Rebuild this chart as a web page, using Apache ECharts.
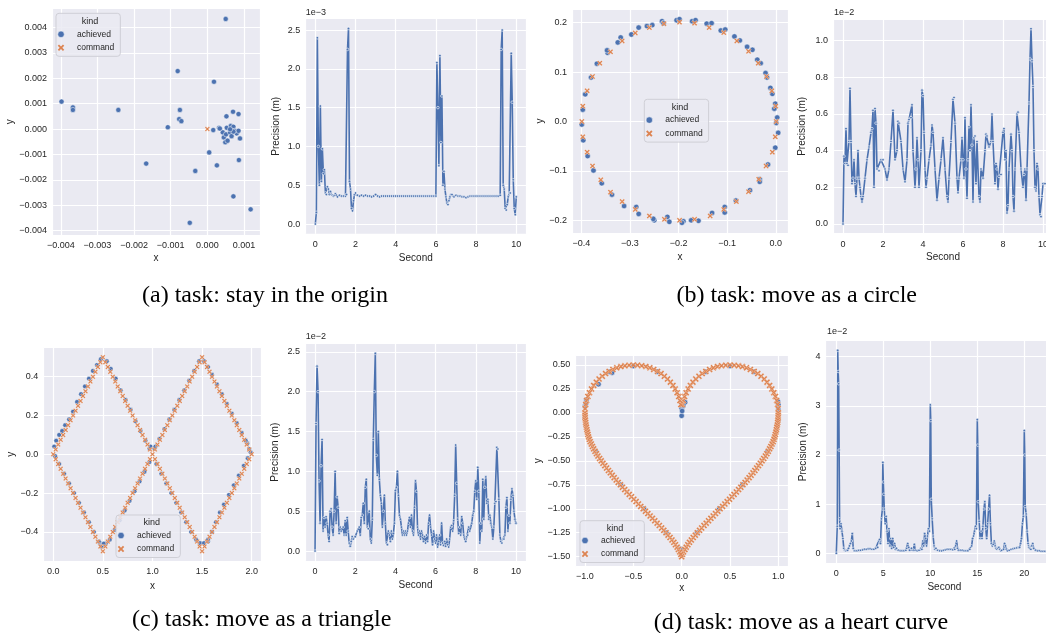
<!DOCTYPE html>
<html><head><meta charset="utf-8">
<script src="https://cdn.jsdelivr.net/npm/echarts@6/dist/echarts.min.js"></script>
<style>html,body{margin:0;padding:0;background:#fff}#c{width:1046px;height:633px}</style>
</head><body><div id="c"></div>
<script>
// ---------- DATA ----------
const kinds = ['achieved', 'command'];
const captions = ['(a) task: stay in the origin', '(b) task: move as a circle', '(c) task: move as a triangle', '(d) task: move as a heart curve'];
const offsetTexts = ['1e\u22123', '1e\u22122', '1e\u22122', '1e\u22122'];

// (a) stay in the origin
const stayAchieved = [[0.00050,0.00433],[-0.00398,0.00108],[-0.00367,0.00085],[-0.00367,0.00075],[-0.00243,0.00075],[-0.00081,0.00228],[0.00018,0.00186],[-0.00075,0.00075],[-0.00077,0.00039],[-0.00071,0.00031],[-0.00108,0.00007],[-0.00167,-0.00136],[-0.00033,-0.00165],[0.00005,-0.00092],[0.00026,-0.00143],[0.00086,-0.00122],[0.00071,-0.00265],[0.00118,-0.00316],[-0.00048,-0.00369],[0.00070,0.00068],[0.00052,0.00050],[0.00085,0.00059],[0.00016,-0.00004],[0.00032,0.00005],[0.00042,-0.00013],[0.00045,-0.00033],[0.00049,-0.00052],[0.00055,-0.00046],[0.00053,0.00005],[0.00051,-0.00021],[0.00062,-0.00014],[0.00064,0.00012],[0.00071,0.00009],[0.00075,-0.00007],[0.00080,-0.00017],[0.00085,-0.00007],[0.00089,-0.00037],[0.00066,-0.00028],[0.00071,-0.00010],[0.00062,-0.00001],[0.00034,0.00002]];
const stayCommand = [[0,0]];
const stayPrecision = [[0,0],[0.05,0.15],[0.1,2.4],[0.15,1.0],[0.2,0.5],[0.25,1.52],[0.3,0.55],[0.35,0.97],[0.4,0.65],[0.45,0.7],[0.5,0.4],[0.55,0.38],[0.6,0.48],[0.65,0.45],[0.7,0.38],[0.75,0.42],[0.8,0.38],[0.85,0.37],[0.9,0.36],[0.95,0.37],[1.0,0.39],[1.05,0.37],[1.1,0.35],[1.2,0.37],[1.3,0.36],[1.4,0.36],[1.5,0.36],[1.55,0.38],[1.6,2.25],[1.65,2.52],[1.7,0.55],[1.75,0.45],[1.8,0.2],[1.85,0.17],[1.9,0.3],[1.95,0.38],[2.0,0.4],[2.1,0.37],[2.2,0.36],[2.3,0.37],[2.4,0.36],[2.5,0.37],[2.6,0.36],[2.7,0.36],[2.8,0.35],[2.9,0.36],[3.0,0.38],[3.1,0.36],[3.2,0.35],[3.3,0.36],[3.4,0.36],[3.5,0.36],[3.6,0.36],[3.7,0.36],[3.8,0.36],[3.9,0.36],[4.0,0.36],[4.1,0.36],[4.2,0.36],[4.3,0.36],[4.4,0.36],[4.5,0.36],[4.6,0.36],[4.7,0.36],[4.8,0.36],[4.9,0.36],[5.0,0.36],[5.1,0.36],[5.2,0.36],[5.3,0.36],[5.4,0.36],[5.5,0.36],[5.6,0.36],[5.7,0.36],[5.8,0.36],[5.9,0.36],[6.0,0.36],[6.05,2.08],[6.1,1.5],[6.15,0.75],[6.2,2.17],[6.25,1.05],[6.3,1.65],[6.35,0.5],[6.4,0.68],[6.45,0.45],[6.5,0.35],[6.55,0.27],[6.6,0.25],[6.65,0.3],[6.7,0.35],[6.75,0.38],[6.8,0.38],[6.9,0.35],[7.0,0.37],[7.1,0.36],[7.2,0.36],[7.3,0.35],[7.4,0.35],[7.5,0.34],[7.6,0.35],[7.7,0.36],[7.8,0.36],[7.9,0.36],[8.0,0.36],[8.1,0.36],[8.2,0.36],[8.3,0.36],[8.4,0.36],[8.5,0.36],[8.6,0.36],[8.7,0.36],[8.8,0.36],[8.9,0.36],[9.0,0.36],[9.1,0.36],[9.2,0.37],[9.25,2.25],[9.3,2.5],[9.35,0.5],[9.4,0.45],[9.45,0.2],[9.5,0.18],[9.55,0.25],[9.6,0.35],[9.65,0.4],[9.7,0.4],[9.75,2.2],[9.8,1.57],[9.85,0.57],[9.9,0.2],[9.95,0.12],[10.0,0.35]];

// (b) circle
const circleAchieved = [[-0.204,0.205],[-0.198,0.207],[-0.172,0.203],[-0.165,0.205],[-0.142,0.198],[-0.132,0.199],[-0.113,0.184],[-0.104,0.186],[-0.085,0.172],[-0.074,0.164],[-0.059,0.151],[-0.048,0.145],[-0.038,0.125],[-0.031,0.118],[-0.021,0.098],[-0.018,0.089],[-0.011,0.068],[-0.007,0.056],[-0.001,0.036],[-0.003,0.026],[0.003,0.008],[0.001,-0.003],[0.005,-0.023],[-0.001,-0.053],[-0.016,-0.087],[-0.033,-0.117],[-0.033,-0.122],[-0.053,-0.139],[-0.082,-0.160],[-0.105,-0.173],[-0.105,-0.184],[-0.131,-0.185],[-0.159,-0.201],[-0.174,-0.200],[-0.190,-0.202],[-0.193,-0.205],[-0.223,-0.193],[-0.219,-0.203],[-0.250,-0.200],[-0.252,-0.197],[-0.282,-0.187],[-0.287,-0.173],[-0.312,-0.171],[-0.337,-0.148],[-0.358,-0.125],[-0.375,-0.099],[-0.387,-0.070],[-0.396,-0.038],[-0.399,-0.006],[-0.397,0.024],[-0.392,0.055],[-0.380,0.089],[-0.368,0.117],[-0.346,0.139],[-0.347,0.144],[-0.325,0.160],[-0.319,0.170],[-0.297,0.176],[-0.282,0.190],[-0.265,0.193],[-0.254,0.195],[-0.234,0.203],[-0.231,0.199]];
const circleCommand = [[-0.198,0.201],[-0.167,0.199],[-0.137,0.190],[-0.107,0.180],[-0.080,0.163],[-0.056,0.142],[-0.036,0.118],[-0.019,0.091],[-0.008,0.062],[0.000,0.031],[0.001,0.000],[-0.001,-0.031],[-0.007,-0.062],[-0.020,-0.090],[-0.035,-0.117],[-0.056,-0.142],[-0.081,-0.162],[-0.107,-0.178],[-0.135,-0.191],[-0.167,-0.198],[-0.198,-0.200],[-0.229,-0.198],[-0.260,-0.191],[-0.289,-0.178],[-0.316,-0.162],[-0.340,-0.143],[-0.360,-0.118],[-0.377,-0.090],[-0.388,-0.062],[-0.397,-0.031],[-0.399,0.000],[-0.397,0.031],[-0.388,0.062],[-0.377,0.091],[-0.362,0.118],[-0.340,0.141],[-0.316,0.163],[-0.289,0.179],[-0.260,0.190],[-0.230,0.198]];
const circlePrecision = [[0,0],[0.05,0.37],[0.1,0.33],[0.15,0.52],[0.2,0.33],[0.25,0.32],[0.3,0.45],[0.35,0.74],[0.4,0.45],[0.45,0.22],[0.5,0.25],[0.55,0.35],[0.6,0.22],[0.65,0.15],[0.7,0.25],[0.75,0.4],[0.8,0.25],[0.85,0.2],[0.9,0.15],[0.95,0.12],[1.0,0.15],[1.1,0.25],[1.2,0.35],[1.3,0.42],[1.4,0.5],[1.45,0.52],[1.5,0.62],[1.55,0.2],[1.6,0.63],[1.65,0.55],[1.7,0.3],[1.8,0.29],[1.9,0.35],[2.0,0.35],[2.1,0.3],[2.2,0.24],[2.3,0.3],[2.4,0.45],[2.5,0.62],[2.6,0.35],[2.7,0.4],[2.75,0.56],[2.8,0.55],[2.9,0.45],[3.0,0.3],[3.1,0.23],[3.2,0.35],[3.25,0.55],[3.3,0.57],[3.4,0.58],[3.45,0.65],[3.5,0.4],[3.6,0.2],[3.65,0.3],[3.7,0.47],[3.75,0.35],[3.8,0.2],[3.9,0.4],[3.95,0.73],[4.0,0.7],[4.05,0.5],[4.1,0.3],[4.15,0.2],[4.2,0.25],[4.3,0.35],[4.4,0.43],[4.45,0.54],[4.5,0.5],[4.6,0.3],[4.7,0.13],[4.8,0.25],[4.9,0.35],[5.0,0.47],[5.1,0.3],[5.2,0.15],[5.25,0.12],[5.3,0.25],[5.4,0.45],[5.5,0.68],[5.55,0.69],[5.6,0.55],[5.7,0.25],[5.75,0.17],[5.8,0.25],[5.9,0.35],[5.95,0.47],[6.0,0.35],[6.05,0.25],[6.1,0.58],[6.15,0.3],[6.2,0.14],[6.25,0.35],[6.3,0.53],[6.35,0.4],[6.4,0.65],[6.45,0.43],[6.5,0.12],[6.55,0.47],[6.6,0.48],[6.65,0.22],[6.7,0.45],[6.8,0.15],[6.85,0.12],[6.9,0.3],[7.0,0.25],[7.1,0.4],[7.15,0.49],[7.2,0.48],[7.3,0.42],[7.4,0.45],[7.45,0.6],[7.5,0.45],[7.6,0.22],[7.65,0.33],[7.7,0.3],[7.75,0.19],[7.8,0.26],[7.9,0.27],[8.0,0.5],[8.05,0.52],[8.1,0.35],[8.15,0.4],[8.2,0.06],[8.25,0.1],[8.3,0.3],[8.4,0.49],[8.45,0.4],[8.5,0.15],[8.55,0.07],[8.6,0.3],[8.7,0.6],[8.75,0.61],[8.8,0.5],[8.9,0.3],[9.0,0.2],[9.05,0.27],[9.1,0.3],[9.15,0.13],[9.2,0.3],[9.3,0.66],[9.35,0.9],[9.4,1.065],[9.45,0.89],[9.5,0.75],[9.55,0.4],[9.6,0.2],[9.65,0.18],[9.7,0.33],[9.75,0.3],[9.8,0.15],[9.85,0.05],[9.9,0.04],[9.95,0.15],[10.0,0.22],[10.1,0.22]];

// (c) triangle
const triCommand = [[0,0],[0.025,0.025],[0.05,0.05],[0.075,0.075],[0.1,0.1],[0.125,0.125],[0.15,0.15],[0.175,0.175],[0.2,0.2],[0.225,0.225],[0.25,0.25],[0.275,0.275],[0.3,0.3],[0.325,0.325],[0.35,0.35],[0.375,0.375],[0.4,0.4],[0.425,0.425],[0.45,0.45],[0.475,0.475],
[0.5,0.5],[0.525,0.475],[0.55,0.45],[0.575,0.425],[0.6,0.4],[0.625,0.375],[0.65,0.35],[0.675,0.325],[0.7,0.3],[0.725,0.275],[0.75,0.25],[0.775,0.225],[0.8,0.2],[0.825,0.175],[0.85,0.15],[0.875,0.125],[0.9,0.1],[0.925,0.075],[0.95,0.05],[0.975,0.025],
[1,0],[1.025,-0.025],[1.05,-0.05],[1.075,-0.075],[1.1,-0.1],[1.125,-0.125],[1.15,-0.15],[1.175,-0.175],[1.2,-0.2],[1.225,-0.225],[1.25,-0.25],[1.275,-0.275],[1.3,-0.3],[1.325,-0.325],[1.35,-0.35],[1.375,-0.375],[1.4,-0.4],[1.425,-0.425],[1.45,-0.45],[1.475,-0.475],
[1.5,-0.5],[1.525,-0.475],[1.55,-0.45],[1.575,-0.425],[1.6,-0.4],[1.625,-0.375],[1.65,-0.35],[1.675,-0.325],[1.7,-0.3],[1.725,-0.275],[1.75,-0.25],[1.775,-0.225],[1.8,-0.2],[1.825,-0.175],[1.85,-0.15],[1.875,-0.125],[1.9,-0.1],[1.925,-0.075],[1.95,-0.05],[1.975,-0.025],
[2,0],[1.975,0.025],[1.95,0.05],[1.925,0.075],[1.9,0.1],[1.875,0.125],[1.85,0.15],[1.825,0.175],[1.8,0.2],[1.775,0.225],[1.75,0.25],[1.725,0.275],[1.7,0.3],[1.675,0.325],[1.65,0.35],[1.625,0.375],[1.6,0.4],[1.575,0.425],[1.55,0.45],[1.525,0.475],
[1.5,0.5],[1.475,0.475],[1.45,0.45],[1.425,0.425],[1.4,0.4],[1.375,0.375],[1.35,0.35],[1.325,0.325],[1.3,0.3],[1.275,0.275],[1.25,0.25],[1.225,0.225],[1.2,0.2],[1.175,0.175],[1.15,0.15],[1.125,0.125],[1.1,0.1],[1.075,0.075],[1.05,0.05],[1.025,0.025],
[0.975,-0.025],[0.95,-0.05],[0.925,-0.075],[0.9,-0.1],[0.875,-0.125],[0.85,-0.15],[0.825,-0.175],[0.8,-0.2],[0.775,-0.225],[0.75,-0.25],[0.725,-0.275],[0.7,-0.3],[0.675,-0.325],[0.65,-0.35],[0.625,-0.375],[0.6,-0.4],[0.575,-0.425],[0.55,-0.45],[0.525,-0.475],
[0.5,-0.5],[0.475,-0.475],[0.45,-0.45],[0.425,-0.425],[0.4,-0.4],[0.375,-0.375],[0.35,-0.35],[0.325,-0.325],[0.3,-0.3],[0.275,-0.275],[0.25,-0.25],[0.225,-0.225],[0.2,-0.2],[0.175,-0.175],[0.15,-0.15],[0.125,-0.125],[0.1,-0.1],[0.075,-0.075],[0.05,-0.05],[0.025,-0.025]];
const triAchieved = [[0.01,0.04],[0.03,0.07],[0.06,0.1],[0.09,0.12],[0.12,0.15],[0.16,0.18],[0.2,0.22],[0.24,0.27],[0.28,0.31],[0.32,0.35],[0.36,0.39],[0.4,0.43],[0.44,0.46],[0.48,0.49],
[0.54,0.48],[0.58,0.44],[0.63,0.39],[0.68,0.33],[0.73,0.28],[0.78,0.23],[0.83,0.17],[0.88,0.12],[0.93,0.07],[0.97,0.03],[0.98,0.04],[1.02,0.03],
[1.04,-0.05],[1.09,-0.1],[1.14,-0.15],[1.19,-0.2],[1.24,-0.25],[1.29,-0.3],[1.34,-0.35],[1.39,-0.4],[1.44,-0.44],[1.48,-0.46],[1.48,-0.458],[1.52,-0.458],[1.56,-0.45],
[1.56,-0.44],[1.6,-0.4],[1.64,-0.35],[1.68,-0.3],[1.72,-0.26],[1.77,-0.21],[1.82,-0.16],[1.87,-0.11],[1.92,-0.06],[1.96,-0.02],[1.956,0.057],[1.976,0.027],[1.99,0.01],
[1.94,0.07],[1.9,0.11],[1.85,0.16],[1.8,0.21],[1.75,0.26],[1.7,0.31],[1.65,0.36],[1.6,0.41],[1.56,0.45],[1.52,0.48],
[1.47,0.48],[1.42,0.43],[1.37,0.38],[1.32,0.33],[1.27,0.28],[1.22,0.23],[1.17,0.18],[1.12,0.13],[1.07,0.08],[1.03,0.04],
[0.97,-0.04],[0.92,-0.09],[0.87,-0.14],[0.82,-0.19],[0.77,-0.24],[0.72,-0.29],[0.67,-0.34],[0.62,-0.39],[0.57,-0.44],[0.53,-0.46],[0.47,-0.458],[0.487,-0.476],[0.51,-0.46],
[0.46,-0.45],[0.41,-0.4],[0.36,-0.35],[0.31,-0.3],[0.26,-0.25],[0.21,-0.2],[0.16,-0.15],[0.11,-0.1],[0.06,-0.05],[0.02,-0.01]];
const triPrecision = [[0,0],[0.05,1.6],[0.1,2.32],[0.15,2.0],[0.2,0.88],[0.25,0.35],[0.3,1.07],[0.35,1.4],[0.4,0.25],[0.45,0.42],[0.5,0.3],[0.55,0.43],[0.6,0.35],[0.65,0.2],[0.7,0.12],[0.75,0.5],[0.8,0.53],[0.85,0.3],[0.9,0.2],[0.95,0.5],[1.0,1.0],[1.05,0.35],[1.1,0.68],[1.15,0.55],[1.2,0.22],[1.25,0.3],[1.3,0.25],[1.4,0.3],[1.45,0.2],[1.5,0.38],[1.55,0.2],[1.6,0.42],[1.65,0.25],[1.7,0.1],[1.75,0.06],[1.8,0.12],[1.85,0.18],[1.9,0.15],[2.0,0.18],[2.1,0.25],[2.2,0.3],[2.25,0.2],[2.3,0.42],[2.35,0.45],[2.4,0.6],[2.45,0.35],[2.5,0.8],[2.55,0.9],[2.6,0.3],[2.65,0.28],[2.7,0.5],[2.75,0.15],[2.8,0.1],[2.85,0.4],[2.9,1.4],[2.95,2.0],[3.0,2.48],[3.05,1.2],[3.1,0.95],[3.15,1.5],[3.2,0.9],[3.25,0.7],[3.3,0.6],[3.35,0.3],[3.4,0.5],[3.45,0.7],[3.5,0.35],[3.55,0.1],[3.6,0.08],[3.65,0.25],[3.7,0.2],[3.75,0.12],[3.8,0.25],[3.85,0.15],[3.9,0.22],[3.95,0.35],[4.0,0.76],[4.05,0.8],[4.1,1.0],[4.15,0.7],[4.2,0.45],[4.25,0.4],[4.3,0.3],[4.35,0.2],[4.4,0.25],[4.45,0.2],[4.5,0.25],[4.55,0.2],[4.6,0.25],[4.65,0.35],[4.7,0.42],[4.75,0.3],[4.8,0.45],[4.85,0.25],[4.9,0.2],[4.95,0.55],[5.0,0.88],[5.05,0.75],[5.1,0.3],[5.15,0.2],[5.2,0.25],[5.25,0.15],[5.3,0.25],[5.35,0.2],[5.4,0.12],[5.45,0.18],[5.5,0.1],[5.55,0.2],[5.6,0.12],[5.65,0.35],[5.7,0.45],[5.75,0.3],[5.8,0.2],[5.85,0.08],[5.9,0.25],[5.95,0.15],[6.0,0.1],[6.05,0.2],[6.1,0.05],[6.15,0.12],[6.2,0.2],[6.25,0.08],[6.3,0.35],[6.35,0.1],[6.4,0.07],[6.45,0.12],[6.5,0.06],[6.55,0.15],[6.6,0.08],[6.65,0.05],[6.7,0.15],[6.75,0.3],[6.8,0.32],[6.85,0.25],[6.9,0.38],[6.95,0.7],[7.0,1.33],[7.05,0.85],[7.1,0.4],[7.15,0.22],[7.2,0.3],[7.25,0.2],[7.3,0.43],[7.35,0.35],[7.4,0.2],[7.45,0.15],[7.5,0.12],[7.55,0.18],[7.6,0.2],[7.65,0.3],[7.7,0.25],[7.8,0.35],[7.85,0.45],[7.9,0.5],[7.95,0.75],[8.0,0.88],[8.05,0.65],[8.1,1.05],[8.15,0.75],[8.2,0.1],[8.25,0.35],[8.3,0.25],[8.35,0.9],[8.4,0.4],[8.45,0.8],[8.5,0.93],[8.55,0.6],[8.6,0.65],[8.65,0.4],[8.7,0.45],[8.75,0.35],[8.8,0.3],[8.85,0.15],[8.9,0.3],[8.95,0.6],[9.0,0.62],[9.05,1.3],[9.1,1.28],[9.15,0.65],[9.2,0.2],[9.25,0.12],[9.3,0.1],[9.35,0.15],[9.4,0.15],[9.45,0.2],[9.5,0.55],[9.55,0.67],[9.6,0.25],[9.65,0.45],[9.7,0.35],[9.75,0.65],[9.8,0.78],[9.85,0.7],[9.9,0.5],[9.95,0.4],[10.0,0.35]];

// (d) heart
const heartCommand = [
[0.008,0.087],[0.017,0.129],[0.030,0.171],[0.047,0.211],[0.067,0.25],[0.090,0.287],[0.117,0.321],[0.146,0.354],[0.179,0.383],[0.213,0.410],[0.25,0.433],[0.289,0.453],[0.329,0.470],[0.371,0.483],[0.413,0.492],[0.456,0.498],[0.5,0.5],[0.544,0.498],[0.587,0.492],[0.629,0.483],[0.671,0.470],[0.711,0.453],[0.75,0.433],[0.787,0.410],[0.821,0.383],[0.854,0.354],[0.883,0.321],[0.910,0.287],[0.933,0.25],[0.953,0.211],[0.970,0.171],[0.983,0.129],[0.992,0.087],[0.998,0.044],
[-0.008,0.087],[-0.017,0.129],[-0.030,0.171],[-0.047,0.211],[-0.067,0.25],[-0.090,0.287],[-0.117,0.321],[-0.146,0.354],[-0.179,0.383],[-0.213,0.410],[-0.25,0.433],[-0.289,0.453],[-0.329,0.470],[-0.371,0.483],[-0.413,0.492],[-0.456,0.498],[-0.5,0.5],[-0.544,0.498],[-0.587,0.492],[-0.629,0.483],[-0.671,0.470],[-0.711,0.453],[-0.75,0.433],[-0.787,0.410],[-0.821,0.383],[-0.854,0.354],[-0.883,0.321],[-0.910,0.287],[-0.933,0.25],[-0.953,0.211],[-0.970,0.171],[-0.983,0.129],[-0.992,0.087],[-0.998,0.044],
[1.000,0],[0.999,-0.025],[0.998,-0.05],[0.996,-0.075],[0.993,-0.1],[0.989,-0.125],[0.985,-0.15],[0.980,-0.175],[0.975,-0.2],[0.969,-0.225],[0.963,-0.25],[0.955,-0.275],[0.946,-0.3],[0.935,-0.325],[0.923,-0.35],[0.910,-0.375],[0.896,-0.4],[0.881,-0.425],[0.866,-0.45],[0.849,-0.475],[0.832,-0.5],[0.814,-0.525],[0.795,-0.55],[0.776,-0.575],[0.757,-0.6],[0.738,-0.625],[0.718,-0.65],[0.698,-0.675],[0.677,-0.7],[0.656,-0.725],[0.634,-0.75],[0.612,-0.775],[0.589,-0.8],[0.566,-0.825],[0.542,-0.85],[0.519,-0.875],[0.495,-0.9],[0.471,-0.925],[0.447,-0.95],[0.423,-0.975],[0.398,-1.0],[0.374,-1.025],[0.350,-1.05],[0.326,-1.075],[0.302,-1.1],[0.278,-1.125],[0.254,-1.15],[0.231,-1.175],[0.207,-1.2],[0.185,-1.225],[0.162,-1.25],[0.141,-1.275],[0.120,-1.3],[0.100,-1.325],[0.081,-1.35],[0.064,-1.375],[0.047,-1.4],[0.033,-1.425],[0.019,-1.45],[0.008,-1.475],[0.000,-1.5],
[-1.000,0],[-0.999,-0.025],[-0.998,-0.05],[-0.996,-0.075],[-0.993,-0.1],[-0.989,-0.125],[-0.985,-0.15],[-0.980,-0.175],[-0.975,-0.2],[-0.969,-0.225],[-0.963,-0.25],[-0.955,-0.275],[-0.946,-0.3],[-0.935,-0.325],[-0.923,-0.35],[-0.910,-0.375],[-0.896,-0.4],[-0.881,-0.425],[-0.866,-0.45],[-0.849,-0.475],[-0.832,-0.5],[-0.814,-0.525],[-0.795,-0.55],[-0.776,-0.575],[-0.757,-0.6],[-0.738,-0.625],[-0.718,-0.65],[-0.698,-0.675],[-0.677,-0.7],[-0.656,-0.725],[-0.634,-0.75],[-0.612,-0.775],[-0.589,-0.8],[-0.566,-0.825],[-0.542,-0.85],[-0.519,-0.875],[-0.495,-0.9],[-0.471,-0.925],[-0.447,-0.95],[-0.423,-0.975],[-0.398,-1.0],[-0.374,-1.025],[-0.350,-1.05],[-0.326,-1.075],[-0.302,-1.1],[-0.278,-1.125],[-0.254,-1.15],[-0.231,-1.175],[-0.207,-1.2],[-0.185,-1.225],[-0.162,-1.25],[-0.141,-1.275],[-0.120,-1.3],[-0.100,-1.325],[-0.081,-1.35],[-0.064,-1.375],[-0.047,-1.4],[-0.033,-1.425],[-0.019,-1.45],[-0.008,-1.475]];
const heartAchieved = [[-1.0,0.069],[-1.0,-0.052],[-0.985,0.14],[-0.99,0.1],[1.0,0.086],[1.0,0.034],[1.0,-0.076],[0.995,0.12],[0.0,0.05],[0.017,0.076],[0.035,0.11],[0.0,-0.03],[0.005,0.02],[-0.01,-1.42],[0.0,-1.44],[0.01,-1.43],[-0.72,0.42],[-0.86,0.3],[0.99,-0.12],[-0.99,-0.12],[0.89,-0.4],[0.63,-0.75],[0.39,-1.0],[0.16,-1.25],[-0.89,-0.4],[-0.63,-0.75],[-0.39,-1.0],[-0.16,-1.25],[0.5,0.49],[-0.5,0.49],[0.25,0.43],[-0.25,0.43],[0.75,0.43],[-0.75,0.43]];
const heartPrecision = [[0,0],[0.1,0.55],[0.15,4.13],[0.2,3.7],[0.25,3.45],[0.3,2.1],[0.35,0.7],[0.4,0.5],[0.5,0.6],[0.6,0.45],[0.7,0.3],[0.8,0.1],[0.9,0.06],[1.0,0.05],[1.1,0.06],[1.2,0.06],[1.3,0.1],[1.4,0.15],[1.5,0.2],[1.6,0.25],[1.7,0.4],[1.8,0.1],[1.9,0.05],[2.0,0.05],[2.2,0.05],[2.4,0.06],[2.6,0.06],[2.8,0.07],[3.0,0.08],[3.2,0.08],[3.4,0.09],[3.6,0.09],[3.8,0.08],[4.0,0.08],[4.2,0.1],[4.4,0.12],[4.5,0.25],[4.6,0.28],[4.7,0.2],[4.8,0.7],[4.9,0.9],[4.95,1.85],[5.0,1.45],[5.05,1.2],[5.1,0.9],[5.2,0.6],[5.3,0.75],[5.4,0.45],[5.5,0.2],[5.6,0.5],[5.7,0.15],[5.8,0.3],[5.9,0.1],[6.0,0.3],[6.1,0.12],[6.2,0.2],[6.3,0.08],[6.4,0.1],[6.6,0.06],[6.8,0.05],[7.0,0.05],[7.2,0.05],[7.4,0.06],[7.5,0.1],[7.6,0.2],[7.7,0.12],[7.8,0.06],[8.0,0.1],[8.2,0.06],[8.3,0.18],[8.4,0.06],[8.6,0.05],[8.8,0.06],[9.0,0.1],[9.1,0.08],[9.2,0.25],[9.3,0.15],[9.4,0.4],[9.5,0.3],[9.6,0.15],[9.7,0.35],[9.8,0.5],[9.9,0.45],[10.0,3.02],[10.05,2.7],[10.1,1.1],[10.2,0.7],[10.3,0.35],[10.4,0.15],[10.5,0.08],[10.6,0.1],[10.8,0.06],[11.0,0.05],[11.2,0.05],[11.4,0.06],[11.6,0.07],[11.8,0.08],[12.0,0.08],[12.2,0.08],[12.4,0.07],[12.6,0.08],[12.7,0.15],[12.8,0.25],[12.9,0.1],[13.0,0.06],[13.2,0.06],[13.4,0.06],[13.6,0.05],[13.8,0.05],[14.0,0.05],[14.2,0.08],[14.4,0.15],[14.5,0.3],[14.6,0.35],[14.7,0.45],[14.8,0.55],[14.9,0.5],[15.0,2.72],[15.05,2.2],[15.1,1.05],[15.2,0.65],[15.3,0.3],[15.4,0.45],[15.5,0.3],[15.6,0.55],[15.7,0.9],[15.8,1.05],[15.9,0.5],[16.0,0.3],[16.1,0.6],[16.2,0.9],[16.3,1.18],[16.4,0.6],[16.5,0.2],[16.6,0.15],[16.7,0.18],[16.8,0.25],[16.9,0.15],[17.0,0.1],[17.1,0.08],[17.2,0.1],[17.3,0.12],[17.4,0.08],[17.5,0.05],[17.6,0.06],[17.8,0.08],[17.9,0.2],[18.0,0.15],[18.1,0.08],[18.2,0.05],[18.4,0.06],[18.6,0.08],[18.8,0.09],[19.0,0.1],[19.2,0.11],[19.4,0.12],[19.5,0.12],[19.6,0.2],[19.7,0.3],[19.8,0.6],[19.9,0.75],[20.0,2.5],[20.05,2.0],[20.1,0.95],[20.2,0.8],[20.3,0.45],[20.4,0.2],[20.5,0.12],[20.6,0.1],[20.7,0.08],[20.8,0.15],[20.9,0.2],[21.0,0.1],[21.2,0.06],[21.4,0.05],[21.6,0.05],[21.8,0.04],[22.0,0.04],[22.2,0.04],[22.4,0.05],[22.6,0.05],[22.8,0.05],[23.0,0.05]];

// ---------- STYLE / LAYOUT ----------
const SANS = 'Liberation Sans, Arial, Helvetica, sans-serif';
const SERIF = 'Liberation Serif, Times New Roman, serif';
const TXT = '#262626';
const BLUE = '#4C72B0', ORANGE = '#DD8452', BG = '#EAEAF2';
const XPATH = 'path://M0,2L2,0L5,3L8,0L10,2L7,5L10,8L8,10L5,7L2,10L0,8L3,5Z';

const grids = [
  {left:52, top:8.3, width:208, height:226.7},
  {left:305.3, top:18.7, width:221, height:215.1},
  {left:572, top:9, width:216, height:224},
  {left:833, top:19, width:220, height:214.7},
  {left:43.3, top:347.6, width:218.3, height:213.4},
  {left:305, top:343.5, width:221, height:217.4},
  {left:575.3, top:355.4, width:212.7, height:210.9},
  {left:825.5, top:340.2, width:237.8, height:223.2}
];
// [min, max, step, decimals, name, nameGap]
const xAx = [
  [-0.00424, 0.001436, 0.001, 3, 'x', 18],
  [-0.5, 10.5, 2, 0, 'Second', 19],
  [-0.4192, 0.0252, 0.1, 1, 'x', 19.5],
  [-0.5, 10.5, 2, 0, 'Second', 19],
  [-0.1, 2.1, 0.5, 1, 'x', 20],
  [-0.5, 10.5, 2, 0, 'Second', 19],
  [-1.1, 1.1, 0.5, 1, 'x', 17],
  [-1.15, 24.15, 5, 0, 'Second', 19]
];
const yAx = [
  [-0.00417, 0.00475, 0.001, 3, 'y', 36],
  [-0.126, 2.646, 0.5, 1, 'Precision (m)', 24],
  [-0.2256, 0.2276, 0.1, 1, 'y', 27],
  [-0.053, 1.118, 0.2, 1, 'Precision (m)', 25.5],
  [-0.55, 0.55, 0.2, 1, 'y', 27],
  [-0.124, 2.604, 0.5, 1, 'Precision (m)', 25],
  [-1.6, 0.6, 0.25, 2, 'y', 32],
  [-0.2065, 4.3365, 1, 0, 'Precision (m)', 17]
];

function fmt(d) {
  return function (v) {
    if (Math.abs(v) < 1e-12) v = 0;
    return v.toFixed(d).replace('-', '\u2212');
  };
}
function axis(i, a, isX) {
  return {
    type: 'value', gridIndex: i, min: a[0], max: a[1], minInterval: a[2], maxInterval: a[2], splitNumber: 5,
    name: a[4], nameLocation: 'middle', nameGap: a[5],
    nameTextStyle: {color: TXT, fontSize: 10, fontFamily: SANS},
    axisLine: {show: false}, axisTick: {show: false},
    axisLabel: {color: TXT, fontSize: 9, fontFamily: SANS, margin: isX ? 6 : 5, formatter: fmt(a[3]), showMinLabel: false, showMaxLabel: false},
    splitLine: {show: true, lineStyle: {color: '#ffffff', width: 1.2}}
  };
}

const scatterSets = [[0, stayAchieved, stayCommand, 5.2, 5], [2, circleAchieved, circleCommand, 5.5, 5.5], [4, triAchieved, triCommand, 4.8, 5], [6, heartAchieved, heartCommand, 5.5, 6.5]];
const lineSets = [[1, stayPrecision], [3, circlePrecision], [5, triPrecision], [7, heartPrecision]];

const series = [];
scatterSets.forEach(function (s) {
  series.push({type: 'scatter', name: kinds[0], xAxisIndex: s[0], yAxisIndex: s[0], data: s[1], symbol: 'circle', symbolSize: s[3],
    itemStyle: {color: BLUE, borderColor: '#fff', borderWidth: 0.5, opacity: 1}, z: 2, silent: true, emphasis: {disabled: true}});
  series.push({type: 'scatter', name: kinds[1], xAxisIndex: s[0], yAxisIndex: s[0], data: s[2], symbol: XPATH, symbolSize: s[4],
    itemStyle: {color: ORANGE, borderColor: '#fff', borderWidth: 0.3, opacity: 1}, z: 3, silent: true, emphasis: {disabled: true}});
});
lineSets.forEach(function (s) {
  series.push({type: 'line', xAxisIndex: s[0], yAxisIndex: s[0], data: s[1], symbol: 'circle', symbolSize: 2.6, showSymbol: true,
    lineStyle: {color: BLUE, width: 1.6}, itemStyle: {color: BLUE, borderColor: '#fff', borderWidth: 0.6},
    z: 2, silent: true, emphasis: {disabled: true}, animation: false});
});

// legend boxes: [left, top, kindX, kindY, padTop]
const legendPos = [[56, 13.3, 90, 22, 16.5], [644.3, 99.3, 680, 107.3, 16.3], [116, 515, 151.7, 522.7, 16], [580, 520.7, 615, 528.3, 15.3]];
const legends = legendPos.map(function (p) {
  return {orient: 'vertical', left: p[0], top: p[1], padding: [p[4], 6, 4, 1.5], itemGap: 4.5, itemWidth: 22, itemHeight: 6.5,
    backgroundColor: 'rgba(234,234,242,0.85)', borderColor: '#CFCFD6', borderWidth: 1, borderRadius: 3, symbolKeepAspect: true,
    textStyle: {fontSize: 8.5, color: TXT, fontFamily: SANS}, selectedMode: false,
    data: [
      {name: kinds[0], icon: 'circle', itemStyle: {color: BLUE, borderColor: '#fff', borderWidth: 0.5}},
      {name: kinds[1], icon: XPATH, itemStyle: {color: ORANGE, borderColor: ORANGE, borderWidth: 0}}
    ]};
});

const graphics = [];
legendPos.forEach(function (p) {
  graphics.push({type: 'text', x: p[2], y: p[3], z: 100, style: {text: 'kind', fill: TXT, fontSize: 9, fontFamily: SANS, align: 'center', verticalAlign: 'middle', textAlign: 'center', textVerticalAlign: 'middle'}});
});
const offsetPos = [[305.7, 13], [834, 13], [305.7, 337], [827, 331.5]];
offsetPos.forEach(function (p, i) {
  graphics.push({type: 'text', x: p[0], y: p[1], z: 100, style: {text: offsetTexts[i], fill: TXT, fontSize: 9, fontFamily: SANS, align: 'left', verticalAlign: 'middle', textAlign: 'left', textVerticalAlign: 'middle'}});
});
const capPos = [[265, 296], [796.7, 296], [261.7, 620], [801, 622.5]];
capPos.forEach(function (p, i) {
  graphics.push({type: 'text', x: p[0], y: p[1], z: 100, style: {text: captions[i], fill: '#000', fontSize: 24, fontFamily: SERIF, align: 'center', verticalAlign: 'middle', textAlign: 'center', textVerticalAlign: 'middle'}});
});

const chart = echarts.init(document.getElementById('c'), null, {renderer: 'canvas'});
chart.setOption({
  animation: false,
  backgroundColor: '#ffffff',
  grid: grids.map(function (g) { return Object.assign({show: true, backgroundColor: BG, borderWidth: 0, containLabel: false, outerBoundsMode: 'none'}, g); }),
  xAxis: xAx.map(function (a, i) { return axis(i, a, true); }),
  yAxis: yAx.map(function (a, i) { return axis(i, a, false); }),
  legend: legends,
  series: series,
  graphic: {elements: graphics}
});
</script>
</body></html>
